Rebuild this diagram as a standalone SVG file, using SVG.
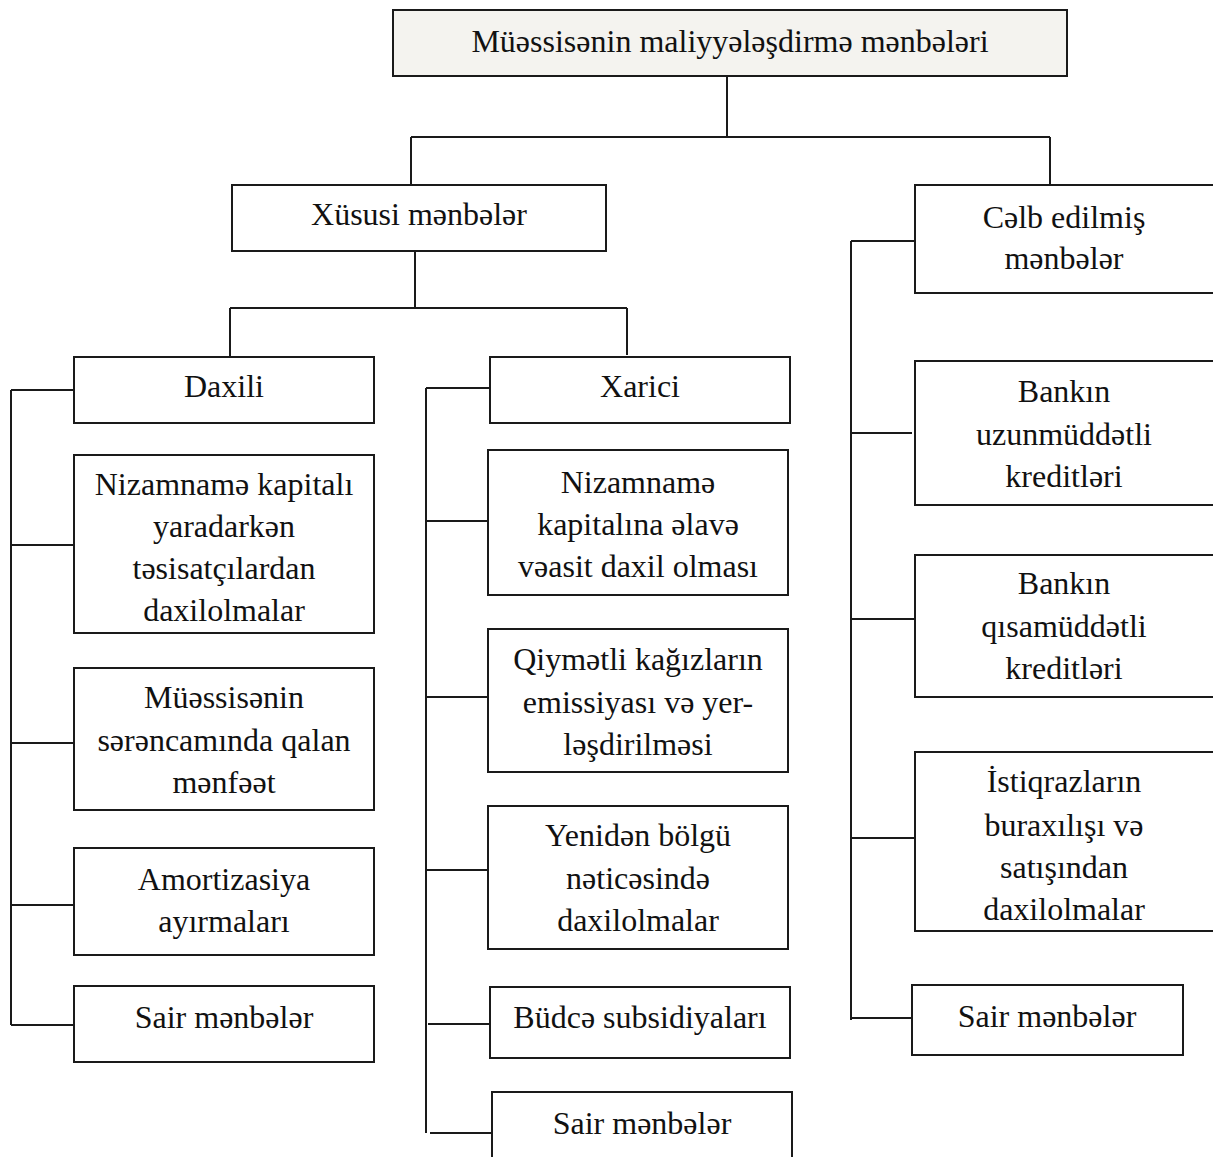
<svg xmlns="http://www.w3.org/2000/svg" width="1213" height="1157" viewBox="0 0 1213 1157">
<style>
.box{fill:#ffffff;stroke:#1a1a1a;stroke-width:2}
.top{fill:#f4f3ef;stroke:#1a1a1a;stroke-width:2}
.t{font-family:"Liberation Serif","Times New Roman",serif;font-size:32px;fill:#111;text-anchor:middle}
.c{stroke:#1a1a1a;stroke-width:2;fill:none}
</style>
<rect width="1213" height="1157" fill="#ffffff"/>
<g id="connectors">
<path class="c" d="M727 76V137M411 137H1050M411 137V185M1050 137V185"/>
<path class="c" d="M415 251V308M230 308H627M230 308V356M627 308V355"/>
<path class="c" d="M11 390V1025M11 390H74M11 545H74M11 743H74M11 905H74M11 1025H74"/>
<path class="c" d="M426 388V1133M426 388H489M426 521H488M426 697H488M426 870H488M428 1024H490M430 1133H492"/>
<path class="c" d="M851 241V1020M851 241H915M850 433H912M851 619H915M851 838H915M851 1018H912"/>
</g>
<g id="n-root"><rect class="top" x="393" y="10" width="674" height="66"/><text class="t" x="730" y="52">Müəssisənin maliyyələşdirmə mənbələri</text></g>
<g id="n-xususi"><rect class="box" x="232" y="185" width="374" height="66"/><text class="t" x="419" y="225">Xüsusi mənbələr</text></g>
<g id="n-celb"><rect class="box" x="915" y="185" width="310" height="108"/><text class="t" x="1064" y="228">Cəlb edilmiş</text><text class="t" x="1064" y="269">mənbələr</text></g>
<g id="n-daxili"><rect class="box" x="74" y="357" width="300" height="66"/><text class="t" x="224" y="397">Daxili</text></g>
<g id="n-xarici"><rect class="box" x="490" y="357" width="300" height="66"/><text class="t" x="640" y="397">Xarici</text></g>
<g id="n-d1"><rect class="box" x="74" y="455" width="300" height="178"/><text class="t" x="224" y="495">Nizamnamə kapitalı</text><text class="t" x="224" y="537">yaradarkən</text><text class="t" x="224" y="579">təsisatçılardan</text><text class="t" x="224" y="621">daxilolmalar</text></g>
<g id="n-d2"><rect class="box" x="74" y="668" width="300" height="142"/><text class="t" x="224" y="708">Müəssisənin</text><text class="t" x="224" y="751">sərəncamında qalan</text><text class="t" x="224" y="793">mənfəət</text></g>
<g id="n-d3"><rect class="box" x="74" y="848" width="300" height="107"/><text class="t" x="224" y="890">Amortizasiya</text><text class="t" x="224" y="932">ayırmaları</text></g>
<g id="n-d4"><rect class="box" x="74" y="986" width="300" height="76"/><text class="t" x="224" y="1028">Sair mənbələr</text></g>
<g id="n-x1"><rect class="box" x="488" y="450" width="300" height="145"/><text class="t" x="638" y="493">Nizamnamə</text><text class="t" x="638" y="535">kapitalına əlavə</text><text class="t" x="638" y="577">vəasit daxil olması</text></g>
<g id="n-x2"><rect class="box" x="488" y="629" width="300" height="143"/><text class="t" x="638" y="670">Qiymətli kağızların</text><text class="t" x="638" y="713">emissiyası və yer-</text><text class="t" x="638" y="755">ləşdirilməsi</text></g>
<g id="n-x3"><rect class="box" x="488" y="806" width="300" height="143"/><text class="t" x="638" y="846">Yenidən bölgü</text><text class="t" x="638" y="889">nəticəsində</text><text class="t" x="638" y="931">daxilolmalar</text></g>
<g id="n-x4"><rect class="box" x="490" y="987" width="300" height="71"/><text class="t" x="640" y="1028">Büdcə subsidiyaları</text></g>
<g id="n-x5"><rect class="box" x="492" y="1092" width="300" height="80"/><text class="t" x="642" y="1134">Sair mənbələr</text></g>
<g id="n-c1"><rect class="box" x="915" y="361" width="310" height="144"/><text class="t" x="1064" y="402">Bankın</text><text class="t" x="1064" y="445">uzunmüddətli</text><text class="t" x="1064" y="487">kreditləri</text></g>
<g id="n-c2"><rect class="box" x="915" y="555" width="310" height="142"/><text class="t" x="1064" y="594">Bankın</text><text class="t" x="1064" y="637">qısamüddətli</text><text class="t" x="1064" y="679">kreditləri</text></g>
<g id="n-c3"><rect class="box" x="915" y="752" width="310" height="179"/><text class="t" x="1064" y="792">İstiqrazların</text><text class="t" x="1064" y="836">buraxılışı və</text><text class="t" x="1064" y="878">satışından</text><text class="t" x="1064" y="920">daxilolmalar</text></g>
<g id="n-c4"><rect class="box" x="912" y="985" width="271" height="70"/><text class="t" x="1047" y="1027">Sair mənbələr</text></g>
</svg>
